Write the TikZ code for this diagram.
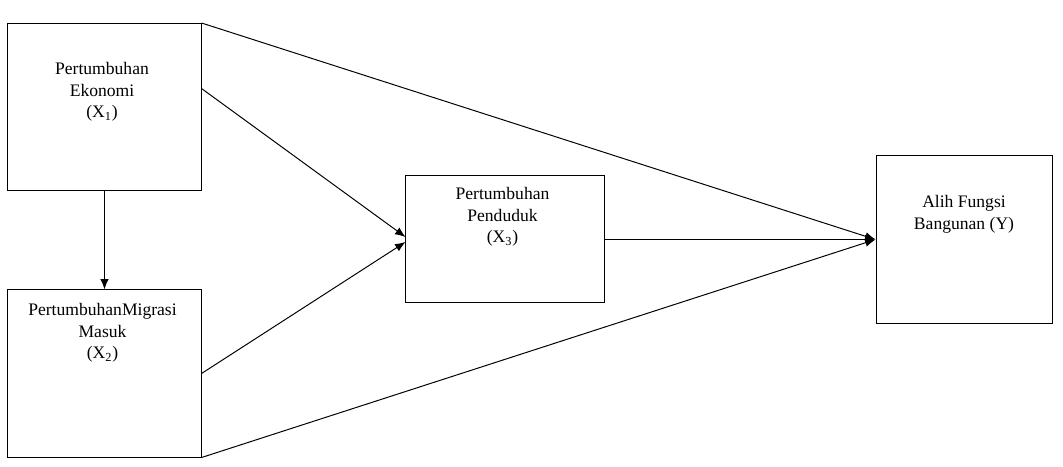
\documentclass[tikz,border=0pt]{standalone}
\usepackage{fontspec}
\setmainfont{Liberation Serif}
\usetikzlibrary{arrows.meta,calc}

\begin{document}
\begin{tikzpicture}[x=0.025cm, y=-0.025cm,
    varbox/.style={draw, line width=0.7pt, minimum width=#1, inner sep=0pt},
    vartext/.style={anchor=north, align=center, inner sep=0pt,
        font=\fontsize{12.5}{15.4}\selectfont},
    link/.style={line width=0.7pt, -{Latex[length=2.6mm,width=2.1mm]}}]

    \useasboundingbox (0,0) rectangle (1063,466);

    % Variable boxes
    \node[varbox=4.825cm, minimum height=4.175cm] (X1) at (104.5,107) {};
    \node[varbox=4.825cm, minimum height=4.175cm] (X2) at (104.5,373.5) {};
    \node[varbox=4.95cm, minimum height=3.15cm] (X3) at (505,239) {};
    \node[varbox=4.4cm, minimum height=4.175cm] (Y) at (964,239.5) {};

    \node[vartext] (tX1) at (102,62) {Pertumbuhan\\Ekonomi\\(X\textsubscript{1})};
    \node[vartext] (tX2) at (102.5,303) {PertumbuhanMigrasi\\Masuk\\(X\textsubscript{2})};
    \node[vartext] (tX3) at (502.5,187) {Pertumbuhan\\Penduduk\\(X\textsubscript{3})};
    \node[vartext] (tY) at (964,195) {Alih Fungsi\\Bangunan (Y)};

    % Paths
    \draw[link] (X1.south) -- (X2.north);
    \draw[link] ($(X1.north east)!0.39!(X1.south east)$) -- ($(X3.west)+(0,-2)$);
    \draw[link] (X2.east) -- ($(X3.west)+(0,3)$);
    \draw[link] (X1.north east) -- (Y.west);
    \draw[link] (X3.east) -- (X3.east -| Y.west);
    \draw[link] (X2.south east) -- (Y.west);

\end{tikzpicture}
\end{document}
